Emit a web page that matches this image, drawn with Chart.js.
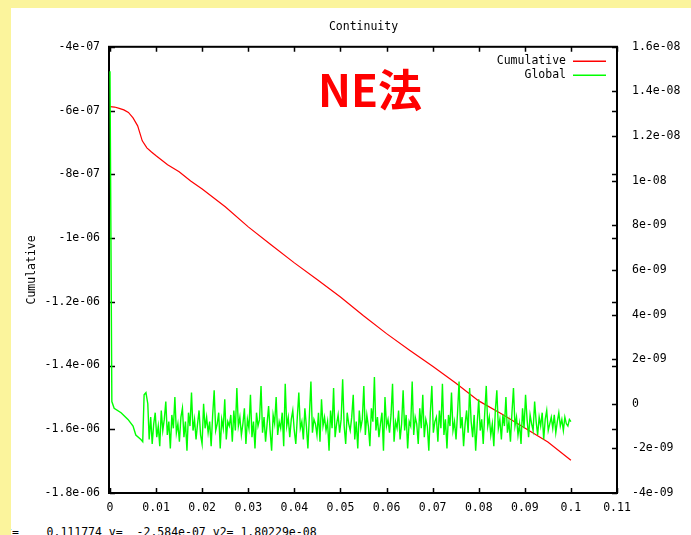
<!DOCTYPE html>
<html>
<head>
<meta charset="utf-8">
<title>Continuity</title>
<script src="https://cdn.jsdelivr.net/npm/chart.js@4.4.1/dist/chart.umd.min.js"></script>
<style>
  html, body { margin: 0; padding: 0; }
  body { width: 691px; height: 535px; overflow: hidden; position: relative; background: #fbf49c; }
  #panel { position: absolute; left: 11px; top: 8px; width: 720px; height: 540px; background: #fff; overflow: hidden; }
  #status { position: absolute; left: -6px; top: 517px; font: 11.5px 'DejaVu Sans Mono', monospace; white-space: pre; color: #000; }
  #chart { position: absolute; left: 0; top: 0; }
  #stamp { position: absolute; left: 318px; top: 66px; font: bold 44px 'Noto Sans CJK JP', sans-serif; color: #ff0000; line-height: 44px; white-space: nowrap; }
</style>
</head>
<body>
<div id="panel"><div id="status">x=    0.111774 y=  -2.584e-07 y2= 1.80229e-08</div></div>
<canvas id="chart" width="720" height="535"></canvas>
<div id="stamp">NE法</div>
<script>
const MONO = "'DejaVu Sans Mono', monospace";

const xTickValues = [0, 0.01, 0.02, 0.03, 0.04, 0.05, 0.06, 0.07, 0.08, 0.09, 0.1, 0.11];
const xTickLabels = ['0', '0.01', '0.02', '0.03', '0.04', '0.05', '0.06', '0.07', '0.08', '0.09', '0.1', '0.11'];
const yTickValues = [-1.8e-6, -1.6e-6, -1.4e-6, -1.2e-6, -1e-6, -8e-7, -6e-7, -4e-7];
const yTickLabels = ['-1.8e-06', '-1.6e-06', '-1.4e-06', '-1.2e-06', '-1e-06', '-8e-07', '-6e-07', '-4e-07'];
const y2TickValues = [-4e-9, -2e-9, 0, 2e-9, 4e-9, 6e-9, 8e-9, 1e-8, 1.2e-8, 1.4e-8, 1.6e-8];
const y2TickLabels = ['-4e-09', '-2e-09', '0', '2e-09', '4e-09', '6e-09', '8e-09', '1e-08', '1.2e-08', '1.4e-08', '1.6e-08'];

// Cumulative (left axis)
const cumulativeX = [0, 0.001, 0.002, 0.003, 0.004, 0.005, 0.006, 0.007, 0.008, 0.009, 0.010,
  0.0125, 0.015, 0.0175, 0.02, 0.025, 0.03, 0.035, 0.04, 0.045, 0.05, 0.055, 0.06, 0.065,
  0.07, 0.075, 0.08, 0.085, 0.09, 0.095, 0.1];
const cumulativeY = [-5.88e-7, -5.89e-7, -5.93e-7, -5.98e-7, -6.06e-7, -6.23e-7, -6.48e-7, -6.95e-7,
  -7.17e-7, -7.30e-7, -7.42e-7, -7.70e-7, -7.92e-7, -8.21e-7, -8.46e-7, -9.02e-7, -9.65e-7,
  -1.022e-6, -1.078e-6, -1.131e-6, -1.185e-6, -1.244e-6, -1.300e-6, -1.352e-6, -1.402e-6,
  -1.455e-6, -1.511e-6, -1.552e-6, -1.596e-6, -1.640e-6, -1.697e-6];

// Global (right axis), values in units of 1e-9
const globalHeadX = [0, 0.0004, 0.0009, 0.0024, 0.0039, 0.005, 0.0056, 0.0067, 0.0071, 0.0074, 0.0078, 0.0082];
const globalHeadY = [14.9, 0.1, -0.2, -0.4, -0.7, -1.0, -1.4, -1.6, -1.7, 0.4, 0.5, 0.0];
const globalNoiseStart = 0.0085;
const globalNoiseEnd = 0.1;
const globalNoiseY = [
  -1.6, -0.6, -1.8, -0.9, -0.4, -1.5, -1.0, -1.9, -0.3, -1.2, -0.7, 0.1, -1.4, -0.8,
  -2.0, -0.5, -1.1, 0.3, -1.3, -0.9, -1.7, -0.6, -0.2, -1.5, -0.8, -2.1, -0.4, -1.0,
  0.5, -1.2, -0.7, -1.6, -0.9, -0.3, -1.4, -1.8, 0.0, -1.1, -0.6, -1.3, -0.8, -1.9,
  -0.5, 0.6, -1.2, -0.9, -0.4, -2.0, -0.7, -1.1, 0.2, -1.6, -0.8, -1.0, -0.5, -1.7,
  -0.3, -1.2, 0.7, -1.0, -0.6, -1.4, -0.9, -0.2, -1.8, -0.7, -1.1, 0.4, -1.5, -0.8,
  -2.0, -0.4, -1.0, -0.7, 0.8, -1.3, -0.6, -1.7, -0.9, -0.1, -1.2, -2.1, -0.5, -0.9,
  0.3, -1.4, -0.8, -1.1, -0.4, -1.9, 0.9, -1.0, -0.6, -1.5, -0.7, -0.3, -1.2, -1.8,
  -0.6, 0.5, -1.1, -0.8, -1.6, -0.2, -1.0, -2.0, -0.5, 1.0, -1.3, -0.7, -0.9, -1.4,
  -0.4, -1.7, 0.2, -1.0, -0.6, -1.2, -0.8, -2.1, -0.3, -1.1, 0.7, -1.5, -0.9, -0.5,
  -1.3, -0.7, 1.1, -1.0, -1.8, -0.4, -0.9, -1.2, -0.6, 0.4, -1.6, -0.8, -2.0, -0.3,
  -1.1, -0.7, 0.8, -1.4, -0.5, -1.0, -1.9, -0.2, -0.8, 1.2, -1.2, -0.6, -1.5, -0.9,
  -0.4, -2.1, 0.3, -1.0, -0.7, -1.3, -0.5, 0.9, -1.7, -0.8, -1.1, -0.3, -1.6, -0.9,
  0.6, -1.2, -0.5, -2.0, -0.8, -1.0, 1.0, -1.4, -0.6, -0.9, -1.8, -0.2, -1.1, 0.4,
  -1.5, -0.7, -1.0, -2.1, -0.4, 0.8, -1.3, -0.8, -0.6, -1.7, -0.3, -1.1, 0.9, -1.4,
  -0.7, -2.0, -0.5, -1.0, 0.5, -1.2, -0.8, -1.6, -0.4, 1.0, -1.1, -0.6, -1.9, -0.9,
  -0.3, -1.3, 0.7, -0.8, -1.5, -0.5, -2.1, -0.9, 0.2, -1.2, -0.7, -1.8, -0.4, 0.8,
  -1.0, -0.6, -1.4, -0.9, -1.9, -0.3, 0.6, -1.1, -0.7, -1.6, -0.5, -1.0, 0.3, -1.3,
  -0.8, -1.7, -0.4, 0.7, -1.0, -0.6, -1.4, -0.9, -1.8, -0.2, -1.1, 0.4, -0.7, -1.5,
  -0.5, -0.9, -1.2, 0.1, -0.8, -1.4, -0.6, -1.0, -0.4, -1.6, -0.7, -0.3, -1.2, -0.9,
  -0.6, -1.1, -0.5, -1.3, -0.8, -0.4, -1.0, -0.7, -1.2, -0.6, -0.9, -1.0, -0.7, -0.8
];

const seriesNames = ['Cumulative', 'Global'];
const seriesColors = ['#ff0000', '#00ff00'];

const cumulativePoints = cumulativeX.map((x, i) => ({ x, y: cumulativeY[i] }));
const noiseStep = (globalNoiseEnd - globalNoiseStart) / (globalNoiseY.length - 1);
const globalPoints = globalHeadX.map((x, i) => ({ x, y: globalHeadY[i] * 1e-9 }))
  .concat(globalNoiseY.map((v, i) => ({ x: globalNoiseStart + i * noiseStep, y: v * 1e-9 })));

// gnuplot style frame, inward ticks and key
const gnuplotFrame = {
  id: 'gnuplotFrame',
  beforeDatasetsDraw(chart) {
    const { ctx, chartArea: a, scales } = chart;
    ctx.save();
    ctx.strokeStyle = '#000';
    ctx.lineWidth = 1.5;
    const len = 5;
    ctx.beginPath();
    xTickValues.forEach(v => {
      const px = Math.round(scales.x.getPixelForValue(v)) + 0.5;
      ctx.moveTo(px, a.bottom); ctx.lineTo(px, a.bottom - len);
      ctx.moveTo(px, a.top); ctx.lineTo(px, a.top + len);
    });
    yTickValues.forEach(v => {
      const py = Math.round(scales.y.getPixelForValue(v)) + 0.5;
      ctx.moveTo(a.left, py); ctx.lineTo(a.left + len, py);
      ctx.moveTo(a.right, py); ctx.lineTo(a.right - len, py);
    });
    y2TickValues.forEach(v => {
      const py = Math.round(scales.y2.getPixelForValue(v)) + 0.5;
      ctx.moveTo(a.right, py); ctx.lineTo(a.right - len, py);
    });
    ctx.stroke();
    ctx.lineWidth = 2;
    ctx.strokeRect(a.left - 1, a.top, a.right - a.left + 1, a.bottom - a.top);
    ctx.restore();
  },
  afterDraw(chart) {
    const { ctx } = chart;
    ctx.save();
    ctx.font = '11.5px ' + MONO;
    ctx.textAlign = 'right';
    ctx.textBaseline = 'middle';
    seriesNames.forEach((name, i) => {
      const y = 61 + i * 14;
      ctx.fillStyle = '#000000';
      ctx.fillText(name, 566, y);
      ctx.fillStyle = seriesColors[i];
      ctx.fillRect(573, y - 0.5, 33, 1.5);
    });
    ctx.restore();
  }
};

new Chart(document.getElementById('chart'), {
  type: 'line',
  data: {
    datasets: [
      {
        label: seriesNames[0],
        data: cumulativePoints,
        yAxisID: 'y',
        borderColor: seriesColors[0],
        borderWidth: 1.2,
        pointRadius: 0,
        tension: 0,
        order: 2,
        clip: false
      },
      {
        label: seriesNames[1],
        data: globalPoints,
        yAxisID: 'y2',
        borderColor: seriesColors[1],
        borderWidth: 1.4,
        pointRadius: 0,
        tension: 0,
        order: 1,
        clip: false
      }
    ]
  },
  options: {
    responsive: false,
    animation: false,
    devicePixelRatio: 1,
    layout: { padding: 0 },
    plugins: {
      legend: { display: false },
      tooltip: { enabled: false },
      title: {
        display: true,
        text: 'Continuity',
        color: '#000',
        fullSize: false,
        font: { family: MONO, size: 11.5, weight: 'normal' },
        padding: { top: 20, bottom: 13 }
      }
    },
    scales: {
      x: {
        type: 'linear',
        min: 0,
        max: 0.11,
        grid: { display: false, drawTicks: false },
        border: { display: false },
        afterBuildTicks: s => { s.ticks = xTickValues.map(v => ({ value: v })); },
        afterFit: s => { s.height = 42; },
        ticks: {
          autoSkip: false,
          maxRotation: 0,
          padding: 8,
          color: '#000',
          font: { family: MONO, size: 11.5 },
          callback: (v, i) => xTickLabels[i]
        }
      },
      y: {
        type: 'linear',
        position: 'left',
        min: -1.8e-6,
        max: -4e-7,
        grid: { display: false, drawTicks: false },
        border: { display: false },
        afterBuildTicks: s => { s.ticks = yTickValues.map(v => ({ value: v })); },
        afterFit: s => { s.width = 110; },
        title: {
          display: true,
          text: 'Cumulative',
          color: '#000',
          font: { family: MONO, size: 11.5 },
          padding: { top: 25 }
        },
        ticks: {
          autoSkip: false,
          padding: 10,
          color: '#000',
          font: { family: MONO, size: 11.5 },
          callback: (v, i) => yTickLabels[i]
        }
      },
      y2: {
        type: 'linear',
        position: 'right',
        min: -4e-9,
        max: 1.6e-8,
        grid: { display: false, drawTicks: false },
        border: { display: false },
        afterBuildTicks: s => { s.ticks = y2TickValues.map(v => ({ value: v })); },
        afterFit: s => { s.width = 103; },
        title: {
          display: true,
          text: 'Global',
          color: '#000',
          font: { family: MONO, size: 11.5 },
          padding: { top: 17 }
        },
        ticks: {
          autoSkip: false,
          padding: 15,
          color: '#000',
          font: { family: MONO, size: 11.5 },
          callback: (v, i) => y2TickLabels[i]
        }
      }
    }
  },
  plugins: [gnuplotFrame]
});
</script>
</body>
</html>
